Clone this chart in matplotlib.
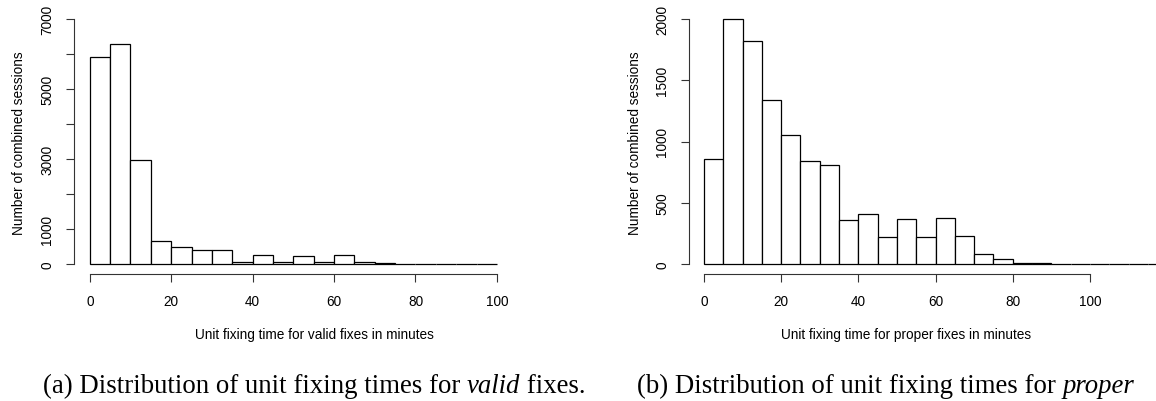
import matplotlib
matplotlib.use("Agg")
import matplotlib.pyplot as plt
import numpy as np

# bin counts (5-minute bins)
valid_edges = list(range(0, 105, 5))
valid_counts = [5905, 6276, 2962, 648, 476, 410, 405, 57, 248, 50, 240, 50, 248,
                57, 40, 12, 10, 10, 8, 8]

proper_edges = list(range(0, 125, 5))
proper_counts = [855, 2003, 1818, 1341, 1056, 843, 805, 356, 411, 223, 365, 218,
                 375, 229, 79, 41, 6, 5, 4, 4, 3, 3, 2, 2]

valid_yticks = list(range(0, 8000, 1000))
valid_ylabels = ["0", "1000", "", "3000", "", "5000", "", "7000"]
proper_yticks = [0, 500, 1000, 1500, 2000]
xticks = [0, 20, 40, 60, 80, 100]

caption_a = ["(a) Distribution of unit fixing times for ", "valid", " fixes."]
caption_b = ["(b) Distribution of unit fixing times for ", "proper", ""]

W, H = 1156, 402
fig = plt.figure(figsize=(W / 100, H / 100), dpi=100)
plt.rcParams["font.family"] = ["Liberation Sans", "DejaVu Sans"]
FS = 9.8


def px_axes(x0, x1, y0, y1):
    return fig.add_axes([x0 / W, 1 - y1 / H, (x1 - x0) / W, (y1 - y0) / H])


def r_style(ax, xlim, ylim, yticks, ylabels, ybound):
    ax.set_xlim(*xlim)
    ax.set_ylim(*ylim)
    for s in ["top", "right"]:
        ax.spines[s].set_visible(False)
    for s in ["left", "bottom"]:
        ax.spines[s].set_linewidth(0.8)
        ax.spines[s].set_color("#333333")
    ax.spines["bottom"].set_bounds(0, 100)
    ax.spines["left"].set_bounds(0, ybound)
    ax.set_xticks(xticks)
    ax.set_xticklabels([str(t) for t in xticks], fontsize=FS)
    ax.set_yticks(yticks)
    ax.set_yticklabels(ylabels, fontsize=FS, rotation=90, va="center")
    ax.tick_params(length=5.8, width=0.8, color="#333333", pad=9)
    ax.tick_params(axis="y", pad=8)
    ax.patch.set_alpha(0)


# (a) valid fixes
ax1 = px_axes(73.5, 513.2, 10.2, 274.8)
ax1.bar(valid_edges[:-1], valid_counts, width=5, align="edge",
        facecolor="white", edgecolor="black", linewidth=0.9)
r_style(ax1, (-4, 104), (-280, 7280), valid_yticks, valid_ylabels, 7000)

# (b) proper fixes - panel is cut at the right edge
ax2 = px_axes(688.5, 1170, 10.2, 274.8)
ax2.bar(proper_edges[:-1], proper_counts, width=5, align="edge",
        facecolor="white", edgecolor="black", linewidth=0.9)
r_style(ax2, (-4, -4 + (1170 - 688.5) / 3.86), (-80, 2080),
        proper_yticks, [str(t) for t in proper_yticks], 2000)

# axis titles
fig.text(314 / W, 1 - 335 / H, "Unit fixing time for valid fixes in minutes",
         ha="center", va="center", fontsize=FS)
fig.text(906 / W, 1 - 335 / H, "Unit fixing time for proper fixes in minutes",
         ha="center", va="center", fontsize=FS)
fig.text(19 / W, 1 - 143 / H, "Number of combined sessions", rotation=90,
         ha="center", va="center", fontsize=FS)
fig.text(635 / W, 1 - 143 / H, "Number of combined sessions", rotation=90,
         ha="center", va="center", fontsize=FS)

# sub-figure captions, middle word in italics
renderer = fig.canvas.get_renderer()


def caption(x, parts):
    for i, s in enumerate(parts):
        if not s:
            continue
        t = fig.text(x / W, 1 - 393 / H, s, fontsize=19.3, va="baseline",
                     family=["Liberation Serif", "DejaVu Serif"],
                     style="italic" if i == 1 else "normal")
        x += t.get_window_extent(renderer).width


caption(43, caption_a)
caption(637, caption_b)

fig.savefig("out.png", dpi=100)
